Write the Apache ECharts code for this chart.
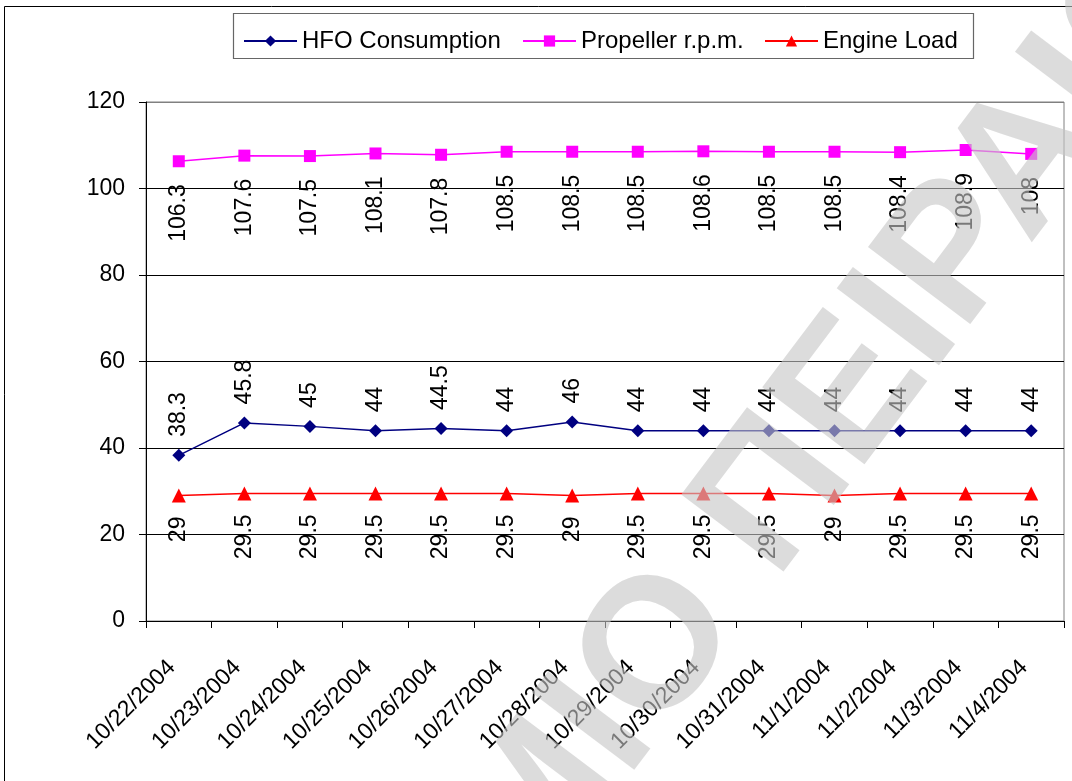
<!DOCTYPE html>
<html>
<head>
<meta charset="utf-8">
<script src="https://cdn.jsdelivr.net/npm/echarts@6/dist/echarts.min.js"></script>
<style>
html,body{margin:0;padding:0;background:#fff;}
#chart{width:1072px;height:781px;}
</style>
</head>
<body>
<div id="chart"></div>
<script>
const categories = ['10/22/2004','10/23/2004','10/24/2004','10/25/2004','10/26/2004','10/27/2004','10/28/2004','10/29/2004','10/30/2004','10/31/2004','11/1/2004','11/2/2004','11/3/2004','11/4/2004'];
const hfoConsumption = [38.3,45.8,45,44,44.5,44,46,44,44,44,44,44,44,44];
const propellerRpm = [106.3,107.6,107.5,108.1,107.8,108.5,108.5,108.5,108.6,108.5,108.5,108.4,108.9,108];
const engineLoad = [29,29.5,29.5,29.5,29.5,29.5,29,29.5,29.5,29.5,29,29.5,29.5,29.5];
const seriesNames = ['HFO Consumption','Propeller r.p.m.','Engine Load'];
const watermarkLeft = 'ΠΑΝΕΠΙΣΤΗΜΙΟ';
const watermarkRight = ' ΠΕΙΡΑΙΩΣ';

const FONT = '"Liberation Sans", Arial, sans-serif';
const chart = echarts.init(document.getElementById('chart'), null, {renderer:'canvas'});

function legendAt(name, left) {
  return {
    data: [name], left: left, top: 29, padding: 0,
    itemWidth: 53, itemHeight: 14, itemGap: 0,
    textStyle: {fontFamily: FONT, fontSize: 24, color: '#000'},
    inactiveColor: '#ccc'
  };
}
const wmRot = 53 * Math.PI / 180;
const wmStyle = {fontFamily: FONT, fontSize: 186, fontWeight: 'bold', fill: 'rgba(197,197,197,0.61)', verticalAlign: 'middle'};
const labelBase = {show: true, rotate: 90, verticalAlign: 'middle', fontSize: 23, color: '#000', fontFamily: FONT};

const option = {
  backgroundColor: '#fff',
  animation: false,
  textStyle: {fontFamily: FONT},
  legend: [legendAt(seriesNames[0], 243), legendAt(seriesNames[1], 522), legendAt(seriesNames[2], 764)],
  grid: {left: 146, right: 8, top: 102, bottom: 160, show: true, borderColor: '#808080', borderWidth: 1},
  xAxis: {
    type: 'category', data: categories, boundaryGap: true,
    axisLine: {lineStyle: {color: '#000', width: 1}},
    axisTick: {show: true, length: 7, inside: false, alignWithLabel: false, lineStyle: {color: '#000'}},
    axisLabel: {rotate: 45, fontSize: 23, color: '#000', margin: 36, padding: [0, 10, 0, 0], interval: 0, fontFamily: FONT},
    splitLine: {show: false}
  },
  yAxis: {
    type: 'value', min: 0, max: 120, interval: 20,
    axisLine: {show: true, lineStyle: {color: '#000', width: 1}},
    axisTick: {show: true, length: 7, lineStyle: {color: '#000'}},
    axisLabel: {fontSize: 23, color: '#000', margin: 21, fontFamily: FONT},
    splitLine: {show: true, lineStyle: {color: ['#000','#000','#000','#000','#000','#000','#808080'], width: 1}}
  },
  series: [
    {
      name: seriesNames[0], type: 'line', data: hfoConsumption,
      color: '#000080', symbol: 'diamond', symbolSize: 13,
      lineStyle: {color: '#000080', width: 1.5},
      itemStyle: {color: '#000080'},
      label: Object.assign({position: 'top', distance: 12, align: 'left'}, labelBase)
    },
    {
      name: seriesNames[1], type: 'line', data: propellerRpm,
      color: '#ff00ff', symbol: 'rect', symbolSize: 12,
      lineStyle: {color: '#ff00ff', width: 1.5},
      itemStyle: {color: '#ff00ff'},
      label: Object.assign({position: 'bottom', distance: 17, align: 'right'}, labelBase)
    },
    {
      name: seriesNames[2], type: 'line', data: engineLoad,
      color: '#ff0000', symbol: 'triangle', symbolSize: 14,
      lineStyle: {color: '#ff0000', width: 1.5},
      itemStyle: {color: '#ff0000'},
      label: Object.assign({position: 'bottom', distance: 14, align: 'right'}, labelBase)
    }
  ],
  graphic: [
    {type: 'rect', z: 0, silent: true, shape: {x: 4.5, y: 6.5, width: 2000, height: 2000}, style: {fill: 'none', stroke: '#000', lineWidth: 1}},
    {type: 'rect', z: 0, silent: true, shape: {x: 233.5, y: 13.5, width: 740, height: 45}, style: {fill: 'none', stroke: '#666', lineWidth: 1.2}},
    {type: 'text', z: 100, silent: true, x: 704, y: 592, rotation: wmRot, style: Object.assign({text: watermarkLeft, align: 'right'}, wmStyle)},
    {type: 'text', z: 100, silent: true, x: 704, y: 592, rotation: wmRot, style: Object.assign({text: watermarkRight, align: 'left'}, wmStyle)}
  ]
};
chart.setOption(option);
</script>
</body>
</html>
